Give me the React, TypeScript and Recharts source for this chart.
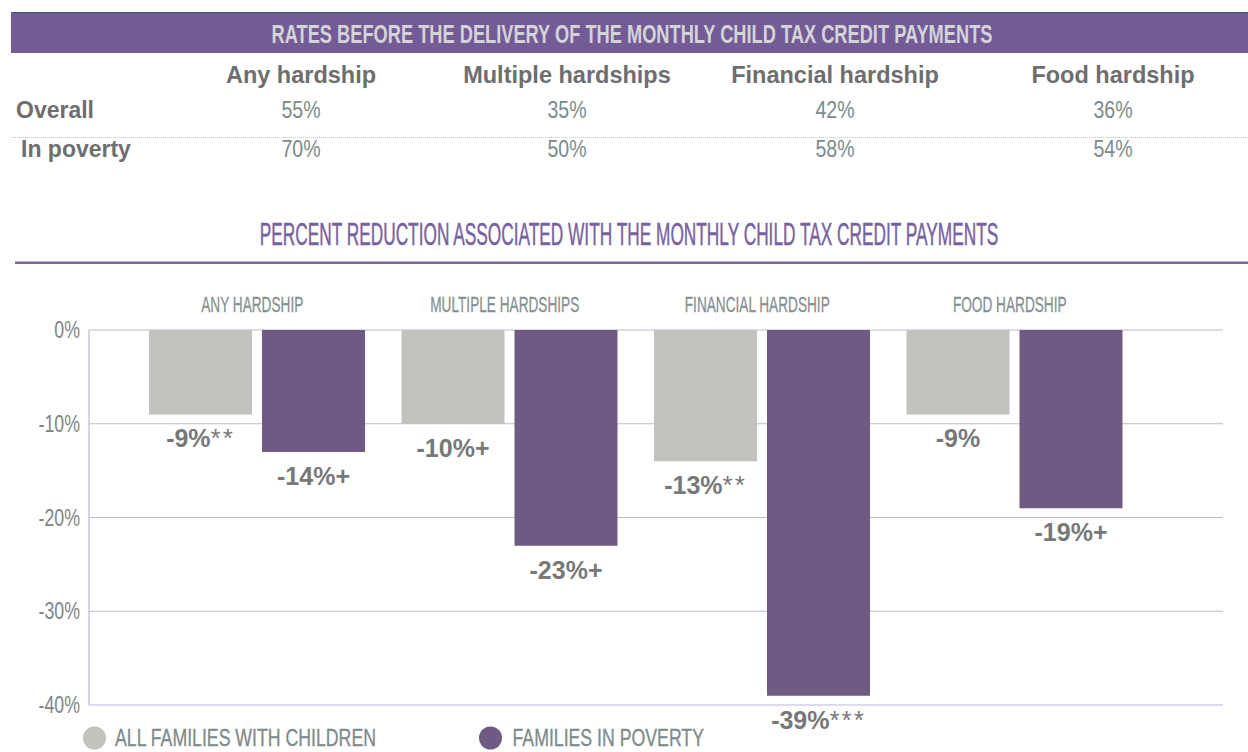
import { Bar, BarChart, CartesianGrid, LabelList, XAxis, YAxis } from 'recharts'

const FONT = '"Liberation Sans", Arial, sans-serif'

// table above the chart
const tableColumns = ['Any hardship', 'Multiple hardships', 'Financial hardship', 'Food hardship']
const overallRates = [55, 35, 42, 36]
const povertyRates = [70, 50, 58, 54]

// chart
const categories = ['ANY HARDSHIP', 'MULTIPLE HARDSHIPS', 'FINANCIAL HARDSHIP', 'FOOD HARDSHIP']
const allFamilies = [-9, -10, -14, -9]
const inPoverty = [-13, -23, -39, -19]
const allFamiliesLabels = ['-9%', '-10%', '-13%', '-9%']
const allFamiliesSig = ['**', '+', '**', '']
const inPovertyLabels = ['-14%', '-23%', '-39%', '-19%']
const inPovertySig = ['+', '+', '***', '+']
const yTicks = [0, -10, -20, -30, -40]

const BAND = '#735c96'
const GREY_BAR = '#c3c2be'
const PURPLE_BAR = '#6e5a82'
const GRID = '#bdb8d8'
const LABEL = '#787878'

const colCenters = [301, 567, 835, 1113]

const data = categories.map((c, i) => ({
  category: c,
  all: allFamilies[i],
  poverty: inPoverty[i],
}))

function CategoryTick({ x, y, payload }: any) {
  return (
    <text
      transform={`translate(${x - 5},${y}) scale(0.62,1)`}
      textAnchor="middle"
      fontFamily={FONT}
      fontSize={22}
      fill="#859090"
      stroke="#859090"
      strokeWidth={0.3}
    >
      {payload.value}
    </text>
  )
}

function PercentTick({ x, y, payload }: any) {
  return (
    <text
      transform={`translate(${x},${y + 8}) scale(0.74,1)`}
      textAnchor="end"
      fontFamily={FONT}
      fontSize={24}
      fill="#7d8585"
    >
      {`${payload.value}%`}
    </text>
  )
}

function makeLabel(labels: string[], sig: string[]) {
  return (props: any) => {
    const { x, y, width, height, index } = props
    const bottom = Math.max(Number(y), Number(y) + Number(height))
    const cx = Number(x) + Number(width) / 2
    const mark = sig[index]
    const star = mark.includes('*')
    return (
      <text x={cx} y={bottom + 33} textAnchor="middle" fontFamily={FONT} fontWeight={700} fontSize={25} fill={LABEL}>
        {labels[index]}
        {mark && (
          <tspan fontWeight={star ? 400 : 700} fontSize={star ? 26 : 25} letterSpacing={star ? 2 : 0}>
            {mark}
          </tspan>
        )}
      </text>
    )
  }
}

function Overlay() {
  return (
    <svg width={1248} height={752} style={{ position: 'absolute', left: 0, top: 0, pointerEvents: 'none' }}>
      {/* top table */}
      <line x1={11} x2={1248} y1={12.5} y2={12.5} stroke="#3d5c5f" strokeWidth={1} />
      <rect x={11} y={13} width={1237} height={40} fill={BAND} />
      <text
        transform="translate(632,42.7) scale(0.73,1)"
        textAnchor="middle"
        fontFamily={FONT}
        fontWeight={700}
        fontSize={25}
        fill="#d3d3d8"
      >
        RATES BEFORE THE DELIVERY OF THE MONTHLY CHILD TAX CREDIT PAYMENTS
      </text>
      {tableColumns.map((c, i) => (
        <text key={c} x={colCenters[i]} y={83.3} textAnchor="middle" fontFamily={FONT} fontWeight={700} fontSize={23.5} fill="#6e6e6e">
          {c}
        </text>
      ))}
      <text x={16} y={118.3} fontFamily={FONT} fontWeight={700} fontSize={23} fill="#6e6e6e">Overall</text>
      <text x={21} y={157.3} fontFamily={FONT} fontWeight={700} fontSize={23} fill="#6e6e6e">In poverty</text>
      <line x1={11} x2={1248} y1={137.5} y2={137.5} stroke="#c4c4c4" strokeWidth={1} strokeDasharray="1 1" />
      {overallRates.map((v, i) => (
        <text key={'o' + i} transform={`translate(${colCenters[i]},118.3) scale(0.85,1)`} textAnchor="middle" fontFamily={FONT} fontSize={23} fill="#7c8a8b">
          {`${v}%`}
        </text>
      ))}
      {povertyRates.map((v, i) => (
        <text key={'p' + i} transform={`translate(${colCenters[i]},157.3) scale(0.85,1)`} textAnchor="middle" fontFamily={FONT} fontSize={23} fill="#7c8a8b">
          {`${v}%`}
        </text>
      ))}

      {/* chart title */}
      <text
        transform="translate(629,245) scale(0.54,1)"
        textAnchor="middle"
        fontFamily={FONT}
        fontSize={32}
        fill="#7762a0"
        stroke="#7762a0"
        strokeWidth={0.5}
      >
        PERCENT REDUCTION ASSOCIATED WITH THE MONTHLY CHILD TAX CREDIT PAYMENTS
      </text>
      <line x1={15} x2={1248} y1={262.7} y2={262.7} stroke="#7a6a9c" strokeWidth={2.5} />

      {/* legend */}
      <circle cx={94.5} cy={738} r={11.5} fill={GREY_BAR} />
      <text
        transform="translate(115,746) scale(0.77,1)"
        fontFamily={FONT}
        fontSize={23}
        fill="#7d8a8b"
        stroke="#7d8a8b"
        strokeWidth={0.3}
      >
        ALL FAMILIES WITH CHILDREN
      </text>
      <circle cx={490.5} cy={738} r={11.5} fill={PURPLE_BAR} />
      <text
        transform="translate(512.5,746) scale(0.77,1)"
        fontFamily={FONT}
        fontSize={23}
        fill="#7d8a8b"
        stroke="#7d8a8b"
        strokeWidth={0.3}
      >
        FAMILIES IN POVERTY
      </text>
    </svg>
  )
}

export default function App() {
  return (
    <div style={{ position: 'absolute', left: 0, top: 0, width: 1248, height: 752, background: '#fff' }}>
      <div style={{ position: 'absolute', left: 0, top: 0 }}>
        <BarChart
          width={1248}
          height={752}
          data={data}
          margin={{ top: 290, right: 25, bottom: 47, left: 29 }}
          barGap={10}
        >
          <CartesianGrid vertical={false} stroke={GRID} strokeWidth={1.2} />
          <XAxis
            dataKey="category"
            orientation="top"
            height={40}
            axisLine={false}
            tickLine={false}
            tickSize={0}
            tickMargin={18}
            interval={0}
            padding={{ left: 42, right: 82 }}
            tick={<CategoryTick />}
          />
          <YAxis
            domain={[-40, 0]}
            ticks={yTicks}
            interval={0}
            width={60}
            axisLine={{ stroke: GRID, strokeWidth: 1.2 }}
            tickLine={false}
            tickSize={0}
            tickMargin={9}
            tick={<PercentTick />}
          />
          <Bar dataKey="all" fill={GREY_BAR} barSize={103} isAnimationActive={false}>
            <LabelList content={makeLabel(allFamiliesLabels, allFamiliesSig)} />
          </Bar>
          <Bar dataKey="poverty" fill={PURPLE_BAR} barSize={103} isAnimationActive={false}>
            <LabelList content={makeLabel(inPovertyLabels, inPovertySig)} />
          </Bar>
        </BarChart>
      </div>
      <Overlay />
    </div>
  )
}
